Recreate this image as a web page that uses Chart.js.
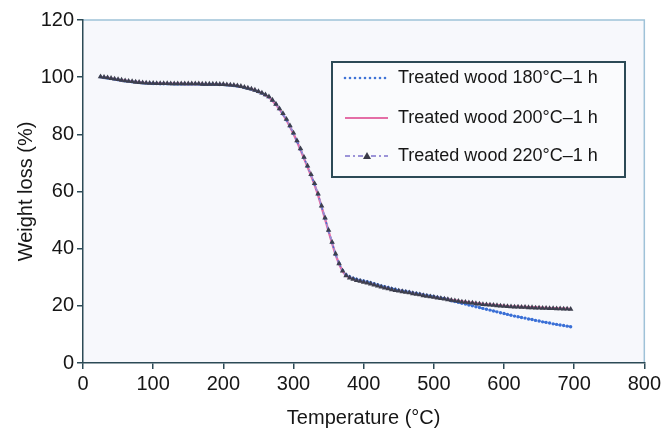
<!DOCTYPE html>
<html><head><meta charset="utf-8">
<script src="https://cdn.jsdelivr.net/npm/chart.js@4/dist/chart.umd.min.js"></script>
<style>html,body{margin:0;padding:0;background:#fff;}canvas{display:block;}</style>
</head><body>
<canvas id="c" width="664" height="431"></canvas>
<script>
const temperatures = [25,30,35,40,45,50,55,60,65,70,75,80,85,90,95,100,105,110,115,120,125,130,135,140,145,150,155,160,165,170,175,180,185,190,195,200,205,210,215,220,225,230,235,240,245,250,255,260,265,270,275,280,285,290,295,300,305,310,315,320,325,330,335,340,345,350,355,360,365,370,375,380,385,390,395,400,405,410,415,420,425,430,435,440,445,450,455,460,465,470,475,480,485,490,495,500,505,510,515,520,525,530,535,540,545,550,555,560,565,570,575,580,585,590,595,600,605,610,615,620,625,630,635,640,645,650,655,660,665,670,675,680,685,690,695];

const treated220 = [100.2,100.0,99.8,99.6,99.4,99.2,99.0,98.8,98.6,98.5,98.3,98.2,98.1,98.0,97.9,97.9,97.8,97.8,97.8,97.8,97.7,97.7,97.7,97.7,97.7,97.7,97.7,97.7,97.7,97.6,97.6,97.6,97.6,97.6,97.5,97.5,97.4,97.3,97.2,97.0,96.8,96.5,96.2,95.9,95.5,95.0,94.5,93.9,93.2,92.0,90.6,89.0,87.3,85.3,83.0,80.5,77.8,75.0,72.0,69.0,66.0,62.8,59.2,55.0,50.8,46.5,42.3,38.2,34.8,32.2,30.6,29.8,29.3,28.9,28.6,28.3,28.0,27.7,27.3,27.0,26.6,26.3,26.0,25.7,25.4,25.2,25.0,24.8,24.6,24.3,24.1,23.9,23.6,23.4,23.2,23.0,22.8,22.6,22.4,22.2,22.0,21.8,21.6,21.4,21.3,21.1,21.0,20.8,20.7,20.5,20.4,20.3,20.2,20.1,20.0,19.9,19.8,19.7,19.6,19.6,19.5,19.5,19.4,19.4,19.3,19.3,19.2,19.2,19.1,19.1,19.0,19.0,18.9,18.9,18.8];

const treated200 = [100.1,99.9,99.8,99.6,99.3,99.1,98.9,98.8,98.6,98.4,98.3,98.2,98.0,98.0,97.9,97.8,97.8,97.8,97.7,97.7,97.7,97.7,97.7,97.7,97.6,97.6,97.6,97.6,97.6,97.6,97.5,97.5,97.5,97.5,97.4,97.4,97.3,97.2,97.1,96.9,96.7,96.4,96.1,95.8,95.4,94.9,94.4,93.7,93.0,91.8,90.4,88.8,87.0,85.0,82.7,80.2,77.5,74.6,71.6,68.6,65.6,62.4,58.8,54.6,50.4,46.1,41.9,37.9,34.6,32.1,30.6,29.9,29.4,29.0,28.7,28.4,28.1,27.8,27.4,27.1,26.7,26.4,26.1,25.8,25.5,25.3,25.1,24.9,24.7,24.4,24.2,24.0,23.7,23.5,23.3,23.1,22.9,22.7,22.5,22.3,22.1,21.9,21.7,21.5,21.4,21.2,21.1,20.9,20.8,20.6,20.5,20.4,20.3,20.2,20.1,20.0,19.9,19.8,19.7,19.7,19.6,19.6,19.5,19.5,19.4,19.4,19.3,19.3,19.2,19.2,19.1,19.1,19.0,19.0,18.9];

const treated180 = [100.1,99.9,99.7,99.5,99.3,99.1,98.9,98.7,98.6,98.4,98.3,98.1,98.0,97.9,97.9,97.8,97.8,97.7,97.7,97.7,97.7,97.6,97.6,97.6,97.6,97.6,97.6,97.6,97.6,97.5,97.5,97.5,97.5,97.5,97.4,97.4,97.3,97.2,97.1,96.9,96.7,96.4,96.1,95.8,95.4,94.9,94.4,93.8,93.1,91.9,90.5,88.9,87.1,85.1,82.8,80.3,77.6,74.8,71.8,68.8,65.8,62.6,59.0,54.8,50.6,46.3,42.1,38.0,34.8,32.4,30.9,30.2,29.7,29.3,29.0,28.7,28.4,28.1,27.7,27.4,27.0,26.7,26.4,26.1,25.8,25.5,25.3,25.1,24.9,24.6,24.4,24.2,23.9,23.7,23.5,23.3,23.0,22.8,22.6,22.3,21.8,21.5,21.2,20.9,20.6,20.3,20.0,19.7,19.4,19.1,18.8,18.5,18.2,17.9,17.6,17.3,17.0,16.7,16.4,16.2,15.9,15.7,15.4,15.2,14.9,14.7,14.4,14.2,14.0,13.7,13.5,13.3,13.1,12.9,12.7];

const seriesLabels = ['Treated wood 180\u00B0C\u20131 h', 'Treated wood 200\u00B0C\u20131 h', 'Treated wood 220\u00B0C\u20131 h'];
const xTitle = 'Temperature (\u00B0C)';
const yTitle = 'Weight loss (%)';

const AXIS = '#2c4a56';
const FONT = '"Liberation Sans", Arial, Helvetica, sans-serif';
const toXY = arr => temperatures.map((t, i) => ({x: t, y: arr[i]}));

const bgPlugin = {
  id: 'bg',
  beforeDraw(chart) {
    const {ctx, chartArea: a} = chart;
    ctx.save();
    ctx.fillStyle = '#f7f8fc';
    ctx.fillRect(a.left, a.top, a.right - a.left, a.bottom - a.top);
    ctx.strokeStyle = '#9fc2d8';
    ctx.lineWidth = 1.5;
    ctx.beginPath();
    ctx.moveTo(a.left, a.top);
    ctx.lineTo(a.right, a.top);
    ctx.lineTo(a.right, a.bottom);
    ctx.stroke();
    ctx.restore();
  }
};

const legendPlugin = {
  id: 'boxLegend',
  afterDatasetsDraw(chart) {
    const {ctx} = chart;
    const bx = 332, by = 62, bw = 293, bh = 115;
    ctx.save();
    ctx.fillStyle = '#fafbfd';
    ctx.fillRect(bx, by, bw, bh);
    ctx.strokeStyle = AXIS;
    ctx.lineWidth = 2;
    ctx.strokeRect(bx, by, bw, bh);
    const rows = [78, 118, 156];
    const x0 = 345, x1 = 388;
    ctx.fillStyle = '#3f74d6';
    for (let x = x0; x <= x1; x += 5) { ctx.beginPath(); ctx.arc(x, rows[0], 1.3, 0, Math.PI*2); ctx.fill(); }
    ctx.strokeStyle = '#e46ea6'; ctx.lineWidth = 2; ctx.setLineDash([]);
    ctx.beginPath(); ctx.moveTo(x0, rows[1]); ctx.lineTo(x1, rows[1]); ctx.stroke();
    ctx.strokeStyle = '#9c94d8'; ctx.lineWidth = 2; ctx.setLineDash([5,3,2,3]);
    ctx.beginPath(); ctx.moveTo(x0, rows[2]); ctx.lineTo(x1, rows[2]); ctx.stroke();
    ctx.setLineDash([]);
    ctx.fillStyle = '#3a3a48';
    const tx = 367, ty = rows[2];
    ctx.beginPath(); ctx.moveTo(tx, ty - 4); ctx.lineTo(tx + 4, ty + 3); ctx.lineTo(tx - 4, ty + 3); ctx.closePath(); ctx.fill();
    ctx.fillStyle = '#161616';
    ctx.font = '18px ' + FONT;
    ctx.textBaseline = 'middle';
    ctx.textAlign = 'left';
    seriesLabels.forEach((l, i) => ctx.fillText(l, 398, rows[i]));
    ctx.restore();
  }
};

new Chart(document.getElementById('c'), {
  type: 'line',
  data: {
    datasets: [
      { label: seriesLabels[0], order: 1, data: toXY(treated180), borderColor: '#3f74d6', backgroundColor: '#3a6fd6', borderWidth: 1.5, borderDash: [2, 3], pointRadius: 1.7, pointStyle: 'circle', pointBorderWidth: 0 },
      { label: seriesLabels[1], order: 2, data: toXY(treated200), borderColor: '#e46ea6', borderWidth: 2.4, pointRadius: 0 },
      { label: seriesLabels[2], order: 0, data: toXY(treated220), borderColor: '#9c94d8', borderWidth: 1.2, borderDash: [5, 3, 2, 3], pointStyle: 'triangle', pointRadius: 3.2, backgroundColor: '#3d3f4e', pointBorderColor: '#3d3f4e', pointBorderWidth: 0 }
    ]
  },
  options: {
    responsive: false,
    animation: false,
    devicePixelRatio: 1,
    layout: { padding: { top: 20, right: 19, left: 0, bottom: 0 } },
    plugins: { legend: { display: false }, tooltip: { enabled: false } },
    elements: { line: { tension: 0 } },
    scales: {
      x: {
        type: 'linear', min: 0, max: 800,
        afterFit(s) { s.height = 68; },
        ticks: { stepSize: 100, color: '#161616', font: { family: FONT, size: 20 }, padding: 3, maxRotation: 0 },
        grid: { drawOnChartArea: false, drawTicks: true, tickLength: 6, color: AXIS, lineWidth: 1.5 },
        border: { color: AXIS, width: 1.5 },
        title: { display: true, text: xTitle, color: '#161616', font: { family: FONT, size: 20 }, padding: { top: 0, bottom: 1 } }
      },
      y: {
        min: 0, max: 120,
        afterFit(s) { s.width = 83; },
        ticks: { stepSize: 20, color: '#161616', font: { family: FONT, size: 20 }, padding: 3 },
        grid: { drawOnChartArea: false, drawTicks: true, tickLength: 6, color: AXIS, lineWidth: 1.5 },
        border: { color: AXIS, width: 1.5 },
        title: { display: true, text: yTitle, color: '#161616', font: { family: FONT, size: 20 }, padding: { top: 14, bottom: 0 } }
      }
    }
  },
  plugins: [bgPlugin, legendPlugin]
});
</script>
</body></html>
